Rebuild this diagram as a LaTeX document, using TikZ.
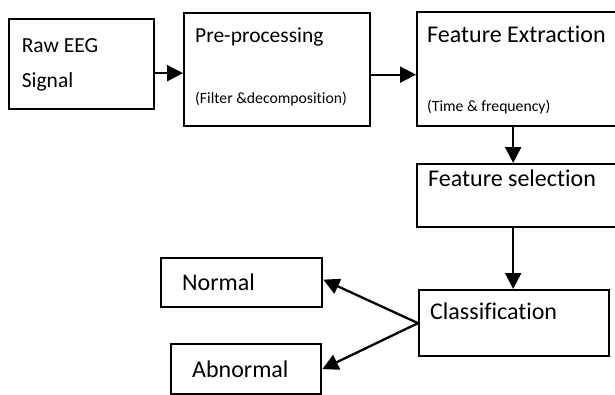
\documentclass[tikz,border=0pt]{standalone}
\usepackage{fontspec}
\setmainfont[Ligatures=NoCommon]{Carlito}
\usetikzlibrary{arrows.meta}
\begin{document}
\begin{tikzpicture}[x=1pt,y=-1pt,
  box/.style={draw,line width=2.3pt,rectangle,inner sep=0pt,anchor=north west},
  lbl/.style={anchor=base west,inner sep=0pt,font=\fontsize{24}{28}\selectfont},
  lblsm/.style={anchor=base west,inner sep=0pt,font=\fontsize{21.5}{25}\selectfont},
  note/.style={anchor=base west,inner sep=0pt,font=\fontsize{15.7}{19}\selectfont},
  flow/.style={line width=2.3pt,-{Triangle[length=16pt,width=16pt]}}]
\useasboundingbox (0,0) rectangle (615,394);

% boxes
\node[box,minimum width=145pt,minimum height=90pt] (raw) at (8,18) {};
\node[box,minimum width=186pt,minimum height=113pt] (pre) at (183,12) {};
\node[box,minimum width=201pt,minimum height=114pt] (fe) at (416,11) {};
\node[box,minimum width=201pt,minimum height=63pt] (fs) at (416,163) {};
\node[box,minimum width=190pt,minimum height=66pt] (cls) at (418,289) {};
\node[box,minimum width=161pt,minimum height=49pt] (nor) at (160,257) {};
\node[box,minimum width=150pt,minimum height=50pt] (abn) at (170,343) {};

% texts
\node[lblsm] (t1) at (21.6,52) {Raw EEG};
\node[lblsm] (t2) at (21.6,87) {Signal};
\node[lblsm] (t3) at (195,42) {Pre-processing};
\node[note] (t4) at (195,103) {(Filter \&decomposition)};
\node[lbl] (t5) at (427,42) {Feature Extraction};
\node[note] (t6) at (427,111) {(Time \& frequency)};
\node[lbl] (t7) at (428,186) {Feature selection};
\node[lbl] (t8) at (430,319) {Classification};
\node[lbl] (t9) at (182,290) {Normal};
\node[lbl] (t10) at (192,377) {Abnormal};

% connectors
\draw[flow] ([yshift=-9pt]raw.east) -- ([yshift=-9pt]raw.east -| pre.west);
\draw[flow] ([yshift=-5pt]pre.east) -- ([yshift=-5pt]pre.east -| fe.west);
\draw[flow] ([xshift=-4.5pt]fe.south) -- ([xshift=-4.5pt]fe.south |- fs.north);
\draw[flow] ([xshift=-4.5pt]fs.south) -- ([xshift=-4.5pt]fs.south |- cls.north);
\draw[flow] (cls.west) -- ([yshift=3pt]nor.east);
\draw[flow] (cls.west) -- (abn.east);
\end{tikzpicture}
\end{document}
